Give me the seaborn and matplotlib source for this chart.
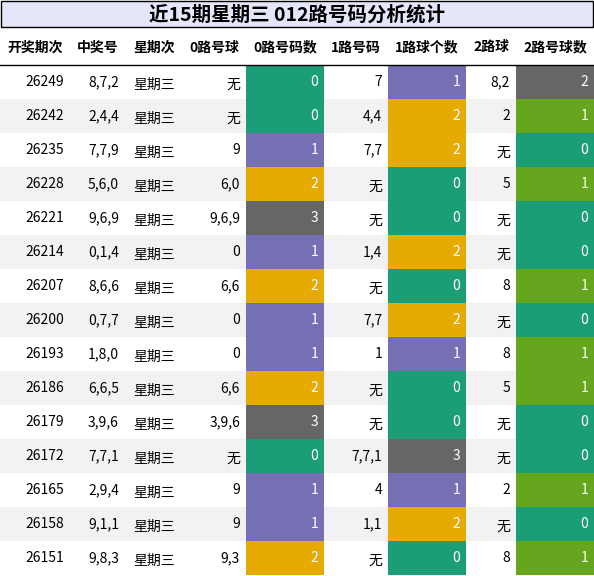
import numpy as np
import matplotlib
matplotlib.use('Agg')
import matplotlib.pyplot as plt
from matplotlib.patches import Rectangle
import seaborn as sns

plt.rcParams['font.family'] = ['Noto Sans CJK SC', 'DejaVu Sans']

title = "近15期星期三 012路号码分析统计"
headers = ["开奖期次", "中奖号", "星期次", "0路号球", "0路号码数", "1路号码", "1路球个数", "2路球", "2路号球数"]
issues = ["26249", "26242", "26235", "26228", "26221", "26214", "26207", "26200",
          "26193", "26186", "26179", "26172", "26165", "26158", "26151"]
numbers = ["8,7,2", "2,4,4", "7,7,9", "5,6,0", "9,6,9", "0,1,4", "8,6,6", "0,7,7",
           "1,8,0", "6,6,5", "3,9,6", "7,7,1", "2,9,4", "9,1,1", "9,8,3"]
weekday = ["星期三"] * 15
road0 = ["无", "无", "9", "6,0", "9,6,9", "0", "6,6", "0", "0", "6,6", "3,9,6", "无", "9", "9", "9,3"]
road0_n = [0, 0, 1, 2, 3, 1, 2, 1, 1, 2, 3, 0, 1, 1, 2]
road1 = ["7", "4,4", "7,7", "无", "无", "1,4", "无", "7,7", "1", "无", "无", "7,7,1", "4", "1,1", "无"]
road1_n = [1, 2, 2, 0, 0, 2, 0, 2, 1, 0, 0, 3, 1, 2, 0]
road2 = ["8,2", "2", "无", "5", "无", "无", "8", "无", "8", "5", "无", "无", "2", "无", "8"]
road2_n = [2, 1, 0, 1, 0, 0, 1, 0, 1, 1, 0, 0, 1, 0, 1]

pal = sns.color_palette("Dark2", 8)

def cmap(v, vmax):
    return pal[int(round(v / vmax * 7))]

W, H = 594, 576
fig = plt.figure(figsize=(W / 100, H / 100), dpi=100)
ax = fig.add_axes([0, 0, 1, 1])
ax.set_xlim(0, W)
ax.set_ylim(H, 0)
ax.axis('off')

edges = [0, 70, 125, 183, 246, 324, 388, 466, 516, 594]
top, rh, hy = 65, 34, 28

# title bar
ax.add_patch(Rectangle((1, 1), W - 2, hy - 2, facecolor='#e6e6fa', edgecolor='black', lw=1))
ax.text(W / 2, 15, title, ha='center', va='center', fontsize=14, fontweight='bold')

for j, h in enumerate(headers):
    ax.text((edges[j] + edges[j + 1]) / 2, (hy + top) / 2 + 1, h, ha='center', va='center',
            fontsize=10, fontweight='bold')
ax.plot([0, W], [top, top], color='black', lw=1)

cols = [issues, numbers, weekday, road0, road0_n, road1, road1_n, road2, road2_n]
vmax = {4: max(road0_n), 6: max(road1_n), 8: max(road2_n)}
for i in range(15):
    y0 = top + i * rh
    if i % 2 == 1:
        ax.add_patch(Rectangle((0, y0), W, rh, facecolor='#f2f2f2', edgecolor='none'))
    for j, col in enumerate(cols):
        x0, x1 = edges[j], edges[j + 1]
        v = col[i]
        color = 'black'
        if j in vmax:
            ax.add_patch(Rectangle((x0, y0), x1 - x0, rh, facecolor=cmap(v, vmax[j]), edgecolor='none'))
            color = 'white'
        if j == 2:
            ax.text(x0 + 8, y0 + rh / 2 + 3, v, ha='left', va='center', fontsize=10, color=color)
        else:
            ax.text(x1 - 6, y0 + rh / 2 + (3 if v == "无" else 0), str(v), ha='right', va='center',
                    fontsize=10, color=color)

fig.savefig('out.png', dpi=100)
